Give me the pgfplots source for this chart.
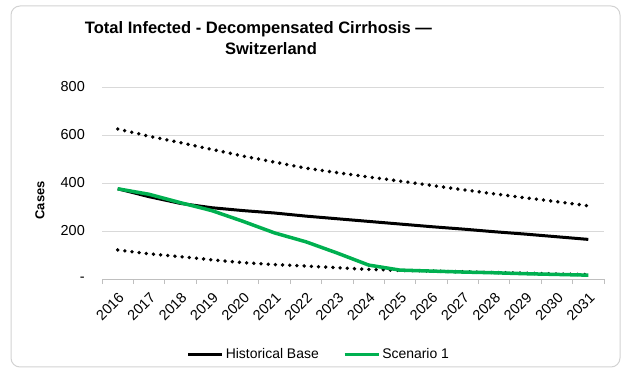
\documentclass[border=0pt]{standalone}
\usepackage{pgfplots}
\pgfplotsset{compat=1.18}
\usepackage{fontspec}
\setmainfont{Liberation Sans}
\definecolor{scgreen}{RGB}{0,176,80}
\definecolor{gridgray}{RGB}{217,217,217}
\definecolor{axisgray}{RGB}{191,191,191}
\definecolor{bordergray}{RGB}{210,210,210}
\begin{document}
\begin{tikzpicture}
\useasboundingbox (0bp,0bp) rectangle (622bp,369bp);
\draw[bordergray, line width=1bp, rounded corners=9bp] (11bp,2bp) rectangle (620bp,363bp);
\node[font=\fontsize{16.6}{19}\selectfont\bfseries, anchor=base, inner sep=0pt] at (258.5bp,335.5bp) {Total Infected - Decompensated Cirrhosis —};
\node[font=\fontsize{16.6}{19}\selectfont\bfseries, anchor=base, inner sep=0pt] at (271bp,314bp) {Switzerland};
\begin{axis}[
  at={(102bp,90bp)}, anchor=south west,
  scale only axis, width=502bp, height=192bp,
  xmin=-0.5, xmax=15.5, ymin=0, ymax=800,
  axis lines*=left,
  y axis line style={draw=none},
  x axis line style={axisgray, line width=1bp},
  xtick={0,...,15},
  xticklabels={2016,2017,2018,2019,2020,2021,2022,2023,2024,2025,2026,2027,2028,2029,2030,2031},
  minor xtick={-0.5,0.5,...,15.5},
  major tick length=0pt,
  minor tick length=5bp,
  tick align=outside,
  minor tick style={axisgray, line width=1bp},
  ytick={0,200,400,600,800},
  yticklabels={-,200,400,600,800},
  ymajorgrids,
  major grid style={gridgray, line width=1bp},
  tick label style={font=\fontsize{14.5}{16}\selectfont},
  xticklabel style={rotate=45, anchor=north east, inner sep=1bp},
  xticklabel shift=11bp,
  yticklabel style={inner sep=0pt, xshift=-17bp},
  ylabel={Cases},
  ylabel style={font=\fontsize{13}{15}\selectfont\bfseries, at={(axis description cs:-0.1235,0.41)}, anchor=center, rotate=0},
  legend style={at={(axis description cs:0.432,-0.394)}, anchor=center, draw=none, fill=none,
    font=\fontsize{14}{16}\selectfont, legend columns=2,
    /tikz/every even column/.append style={column sep=22bp}},
  legend image code/.code={\draw[#1] (0bp,0bp) -- (34bp,0bp);},
  legend cell align=left,
]
\addplot[forget plot, black, line width=3.8bp, line cap=round, dash pattern=on 0bp off 7.2bp] coordinates {
(0,625)(1,595)(2,568)(3,540)(4,512)(5,487)(6,462)(7,443)(8,425)(9,408)(10,390)(11,372)(12,355)(13,338)(14,322)(15,305)};
\addplot[forget plot, black, line width=3.8bp, line cap=round, dash pattern=on 0bp off 7.2bp] coordinates {
(0,121)(1,105)(2,93)(3,80)(4,68)(5,60)(6,54)(7,47)(8,40)(9,36)(10,33)(11,30)(12,27)(13,24)(14,21)(15,18)};
\addplot[black, line width=3bp, line join=round] coordinates {
(0,376)(1,343)(2,315)(3,297)(4,285)(5,275)(6,262)(7,251)(8,240)(9,229)(10,218)(11,208)(12,197)(13,187)(14,176)(15,165)};
\addlegendentry{Historical Base}
\addplot[scgreen, line width=3.5bp, line join=round] coordinates {
(0,376)(1,353)(2,318)(3,285)(4,240)(5,192)(6,155)(7,108)(8,58)(9,37)(10,33)(11,29)(12,26)(13,22)(14,19)(15,16)};
\addlegendentry{Scenario 1}
\end{axis}
\end{tikzpicture}
\end{document}
